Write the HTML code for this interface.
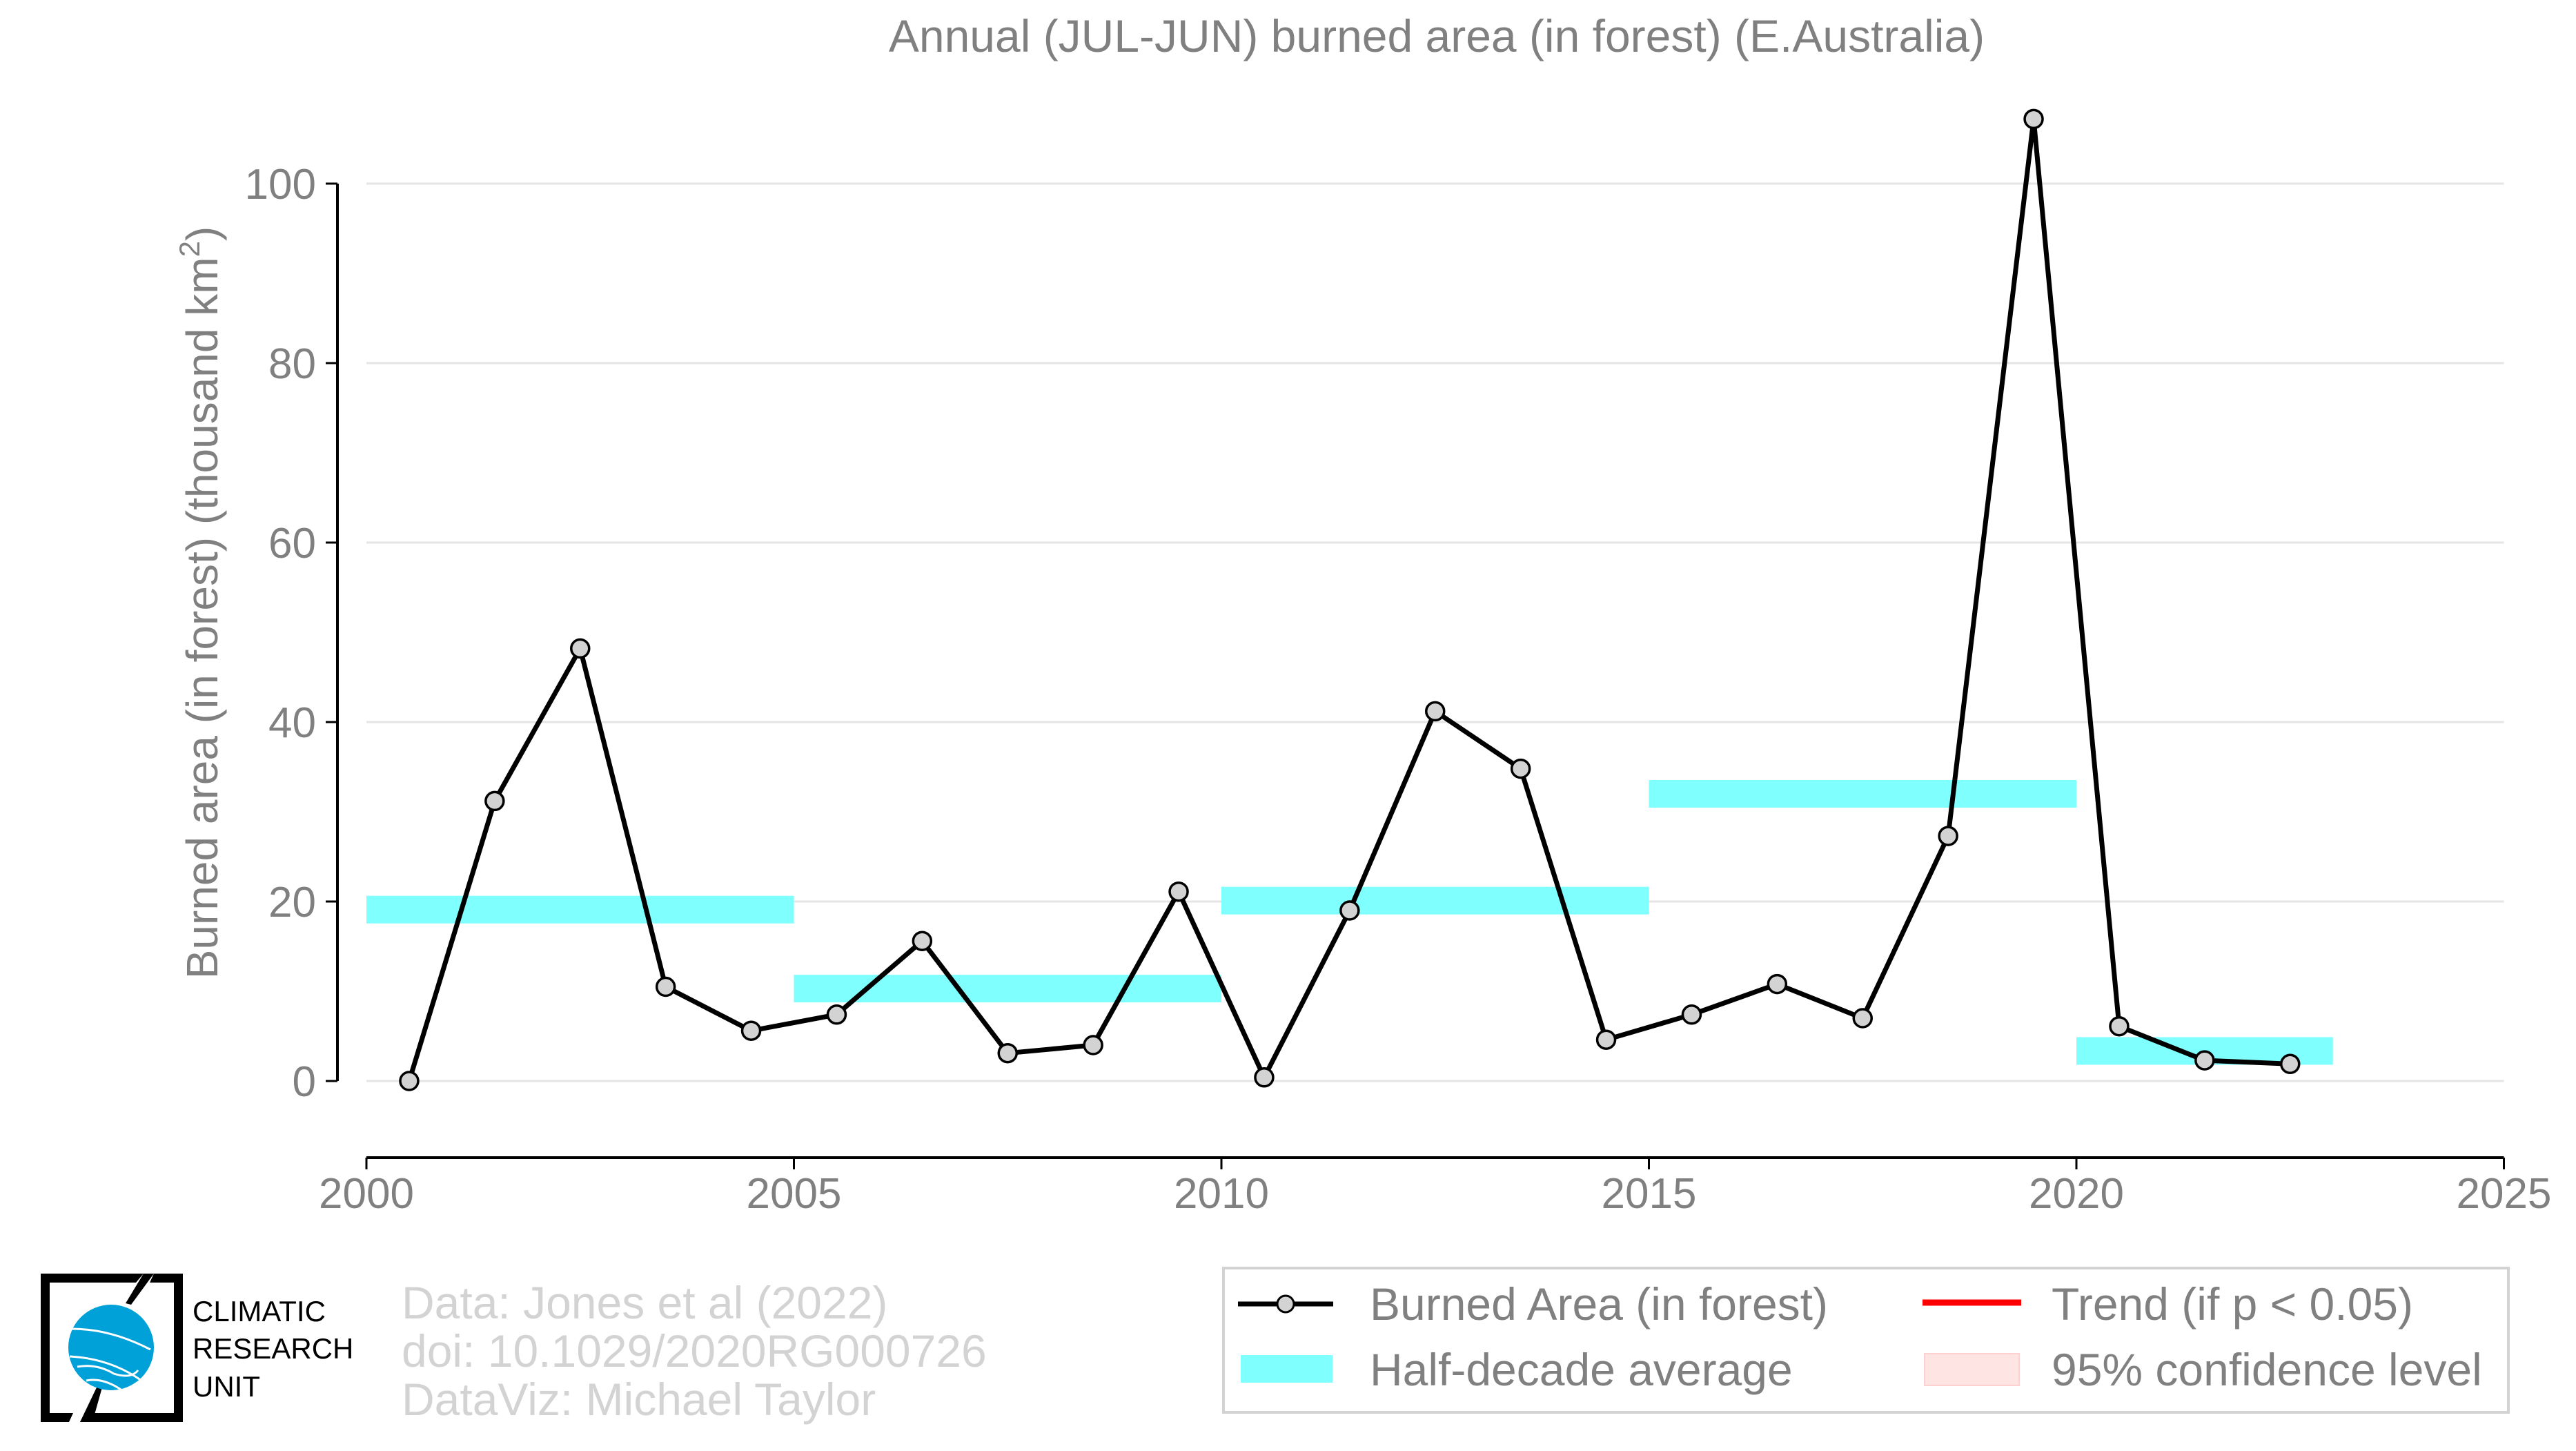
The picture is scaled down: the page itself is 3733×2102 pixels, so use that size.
<!DOCTYPE html>
<html><head><meta charset="utf-8"><style>
html,body{margin:0;padding:0;background:#fff;}
svg{display:block;font-family:"Liberation Sans",sans-serif;}
</style></head><body>
<svg id="chart" width="3733" height="2102" viewBox="0 0 3733 2102">
<text x="2082" y="75" text-anchor="middle" font-size="66" fill="#808080">Annual (JUL-JUN) burned area (in forest) (E.Australia)</text>
<g id="grid"></g>
<g id="bands"></g>
<g id="yaxis"></g>
<g id="xaxis"></g>
<g id="series"></g>
<text transform="translate(315,873) rotate(-90)" text-anchor="middle" font-size="64" fill="#808080">Burned area (in forest) (thousand km<tspan dy="-26" font-size="42">2</tspan><tspan dy="26">)</tspan></text>
<g>
<path d="M59,1845 H208 L197,1858 H72 V2047 H106 L100,2060 H59 Z" fill="#000"/>
<path d="M223,1845 H265 V2060 H116 L123,2047 H252 V1858 H217 Z" fill="#000"/>
<path d="M208,1845 L223,1845 L190,1890 L182,1888 Z" fill="#000"/>
<path d="M140,2010 L148,2010 L134,2060 L116,2060 Z" fill="#000"/>
<circle cx="161" cy="1952" r="62" fill="#00a0d8"/>
<path d="M104,1925 Q160,1925 218,1955 M101,1965 Q160,1968 205,2000 M112,1980 Q140,1975 165,1990 Q190,1998 200,1985 M125,2000 Q150,1995 178,2015" stroke="#fff" stroke-width="3" fill="none"/>
<text x="279" y="1914" font-size="42" fill="#000">CLIMATIC</text>
<text x="279" y="1968" font-size="42" fill="#000">RESEARCH</text>
<text x="279" y="2023" font-size="42" fill="#000">UNIT</text>
</g>
<g font-size="66" fill="#d3d3d3">
<text x="582" y="1910">Data: Jones et al (2022)</text>
<text x="582" y="1980">doi: 10.1029/2020RG000726</text>
<text x="582" y="2050">DataViz: Michael Taylor</text>
</g>
<g>
<rect x="1773" y="1837" width="1862" height="209" fill="#fff" stroke="#d3d3d3" stroke-width="4"/>
<line x1="1794" y1="1889" x2="1932" y2="1889" stroke="#000" stroke-width="7"/>
<circle cx="1863" cy="1889" r="12" fill="#d3d3d3" stroke="#000" stroke-width="3"/>
<text x="1985" y="1912" font-size="66" fill="#808080">Burned Area (in forest)</text>
<line x1="2786" y1="1887" x2="2929" y2="1887" stroke="#f00" stroke-width="9"/>
<text x="2973" y="1912" font-size="66" fill="#808080">Trend (if p &lt; 0.05)</text>
<rect x="1798" y="1963" width="133" height="40" fill="#80ffff"/>
<text x="1985" y="2007" font-size="66" fill="#808080">Half-decade average</text>
<rect x="2789" y="1961" width="137" height="46" fill="#ffe4e4" stroke="#ffd0d0" stroke-width="2"/>
<text x="2973" y="2007" font-size="66" fill="#808080">95% confidence level</text>
</g>
</svg>
<script>
const years=[2000,2001,2002,2003,2004,2005,2006,2007,2008,2009,2010,2011,2012,2013,2014,2015,2016,2017,2018,2019,2020,2021,2022];
const values=[0,31.2,48.2,10.5,5.6,7.4,15.6,3.1,4.0,21.1,0.4,19.0,41.2,34.8,4.6,7.4,10.8,7.0,27.3,107.2,6.1,2.3,1.9];
const bandStarts=[2000,2005,2010,2015,2020];
const bandEnds=[2005,2010,2015,2020,2023];
const bandValues=[19.1,10.3,20.1,32.0,3.35];
const yTicks=[0,20,40,60,80,100];
const xTicks=[2000,2005,2010,2015,2020,2025];
const NS="http://www.w3.org/2000/svg";
const X=v=>531+(v-2000)*123.9;
const Y=v=>1566-v*13.0;
function mk(t,a,p){const e=document.createElementNS(NS,t);for(const k in a)e.setAttribute(k,a[k]);p.appendChild(e);return e;}
const grid=document.getElementById('grid'),yax=document.getElementById('yaxis'),xax=document.getElementById('xaxis'),bands=document.getElementById('bands'),ser=document.getElementById('series');
yTicks.forEach(t=>{
 const g=mk('line',{x1:531,x2:X(2025),y1:Y(t),y2:Y(t),stroke:'#e5e5e5','stroke-width':3},grid);
 
 
 mk('line',{x1:472,x2:489,y1:Y(t),y2:Y(t),stroke:'#000','stroke-width':3},yax);
 const l=mk('text',{x:458,y:Y(t)+22,'text-anchor':'end','font-size':62,fill:'#808080'},yax);
 l.textContent=t;
 
 
});
mk('line',{x1:489,x2:489,y1:Y(100),y2:Y(0),stroke:'#000','stroke-width':4},yax);
mk('line',{x1:531,x2:X(2025),y1:1677,y2:1677,stroke:'#000','stroke-width':4},xax);
xTicks.forEach(t=>{
 mk('line',{x1:X(t),x2:X(t),y1:1677,y2:1694,stroke:'#000','stroke-width':3},xax);
 const l=mk('text',{x:X(t),y:1750,'text-anchor':'middle','font-size':62,fill:'#808080'},xax);
 l.textContent=t;
 
 
});
bandValues.forEach((v,i)=>{
 const r=mk('rect',{x:X(bandStarts[i]),y:Y(v)-20,width:X(bandEnds[i])-X(bandStarts[i]),height:40,fill:'#80ffff'},bands);
 
 
});
const pts=values.map((v,i)=>X(years[i]+0.5)+','+Y(v)).join(' ');
const pl=mk('polyline',{points:pts,fill:'none',stroke:'#000','stroke-width':7,'stroke-linejoin':'round'},ser);


values.forEach((v,i)=>{
 const c=mk('circle',{cx:X(years[i]+0.5),cy:Y(v),r:13,fill:'#d3d3d3',stroke:'#000','stroke-width':3.5},ser);
 
 
});
</script>
</body></html>
